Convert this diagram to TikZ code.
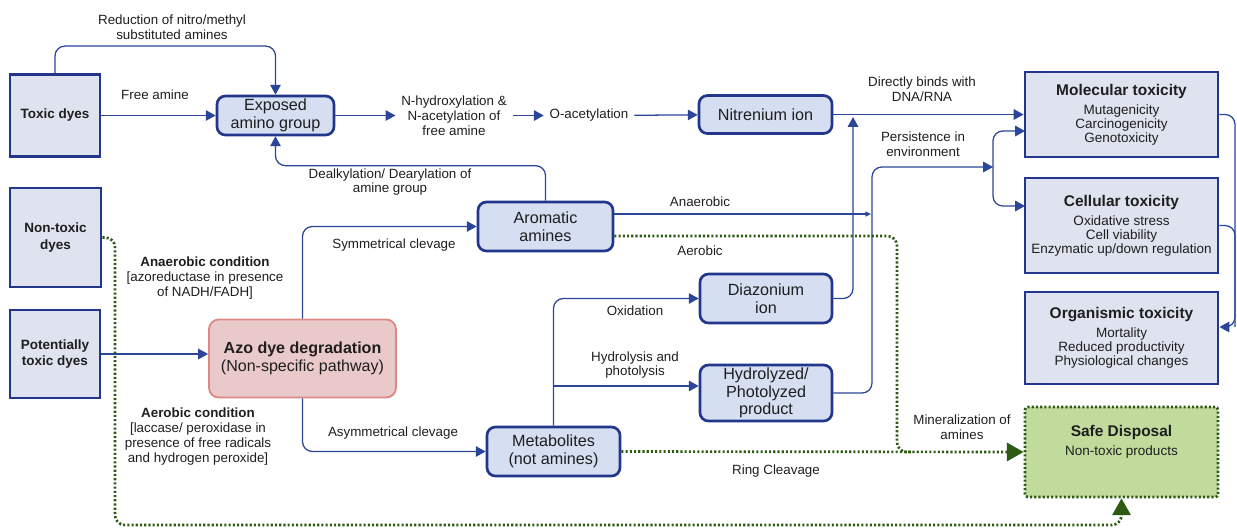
\documentclass[tikz,border=0pt]{standalone}
\usepackage{fontspec}
\setmainfont{Liberation Sans}
\usetikzlibrary{arrows.meta}
\definecolor{azline}{HTML}{2A4599}
\definecolor{azborder}{HTML}{22378C}
\definecolor{azdye}{HTML}{DEE3EF}
\definecolor{azstep}{HTML}{D5DFF1}
\definecolor{azpink}{HTML}{EAC9CA}
\definecolor{azpinkline}{HTML}{D98A84}
\definecolor{azgreen}{HTML}{2E5A14}
\definecolor{azsafe}{HTML}{C1DB9D}
\definecolor{aztext}{HTML}{1E1E1E}

\begin{document}
\begin{tikzpicture}[x=0.025cm, y=-0.025cm,
    every node/.style={text=aztext, font=\fontsize{9.5}{10.5}\selectfont},
    dyebox/.style={rectangle, draw=azborder, line width=2pt, fill=azdye, inner sep=0pt, align=center, font=\fontsize{9.6}{11.5}\selectfont\bfseries},
    stepbox/.style={rectangle, rounded corners=6pt, draw=azborder, line width=1.9pt, fill=azstep, inner sep=0pt, align=center, font=\fontsize{11.5}{12.6}\selectfont},
    toxbox/.style={rectangle, draw=azborder, line width=2pt, fill=azdye, inner sep=0pt, align=center, minimum width=4.825cm, font=\fontsize{9.6}{10}\selectfont},
    safebox/.style={rectangle, rounded corners=2pt, draw=azgreen, line width=1.9pt, dash pattern=on 1.5pt off 1.5pt, fill=azsafe, minimum width=4.825cm},
    lbl/.style={align=center, inner sep=2pt},
    flow/.style={draw=azline, line width=0.9pt, rounded corners=7pt, -{Triangle[length=7pt,width=7.5pt]}},
    tinyflow/.style={draw=azline, line width=0.9pt, -{Triangle[length=4pt,width=3.5pt]}},
    link/.style={draw=azline, line width=0.9pt, rounded corners=7pt},
    aerob/.style={draw=azgreen, line width=1.9pt, dash pattern=on 1.5pt off 1.5pt, rounded corners=7pt},
    aerobflow/.style={aerob, -{Triangle[length=12pt,width=13pt]}},
  ]
  \useasboundingbox (0,0) rectangle (1237,529);

  % Dye classes
  \node[dyebox, minimum width=2.25cm, minimum height=2.05cm] (toxic) at (55,115.5) {Toxic dyes};
  \node[dyebox, minimum width=2.275cm, minimum height=2.475cm] (nontox) at (55.5,237.5) {Non-toxic\\dyes};
  \node[dyebox, minimum width=2.25cm, minimum height=2.2cm] (pottox) at (55,354) {Potentially\\toxic dyes};

  % Degradation
  \node[rectangle, rounded corners=7pt, draw=azpinkline, line width=1.3pt, fill=azpink, minimum width=4.675cm, minimum height=1.95cm, align=center, font=\fontsize{11.4}{12.8}\selectfont] (azo) at (302.5,358.5) {{\bfseries Azo dye degradation}\\(Non-specific pathway)};

  % Intermediates
  \node[stepbox, minimum width=2.925cm, minimum height=0.975cm] (exposed) at (275.5,115.5) {Exposed\\amino group};
  \node[stepbox, minimum width=3.325cm, minimum height=0.95cm] (nitren) at (765.5,114.5) {Nitrenium ion};
  \node[stepbox, minimum width=3.375cm, minimum height=1.225cm] (arom) at (545.5,226.5) {Aromatic\\amines};
  \node[stepbox, minimum width=3.325cm, minimum height=1.225cm] (metab) at (553.5,451.5) {Metabolites\\(not amines)};
  \node[stepbox, minimum width=3.3cm, minimum height=1.225cm] (diaz) at (766,298.5) {Diazonium\\ion};
  \node[stepbox, minimum width=3.3cm, minimum height=1.4cm] (hydro) at (766,393) {Hydrolyzed/\\Photolyzed\\product};

  % Outcomes
  \node[toxbox, minimum height=2.125cm] (mol) at (1121.5,114.5) {{\bfseries\fontsize{11}{13}\selectfont Molecular toxicity}\\[3.5pt]Mutagenicity\\Carcinogenicity\\Genotoxicity};
  \node[toxbox, minimum height=2.375cm] (cell) at (1121.5,225.5) {{\bfseries\fontsize{11}{13}\selectfont Cellular toxicity}\\[3.5pt]Oxidative stress\\Cell viability\\Enzymatic up/down regulation};
  \node[toxbox, minimum height=2.3cm] (org) at (1121.5,338) {{\bfseries\fontsize{11}{13}\selectfont Organismic toxicity}\\[3.5pt]Mortality\\Reduced productivity\\Physiological changes};
  \node[safebox, minimum height=2.25cm] (safe) at (1121.5,452) {};
  \node[align=center, font=\fontsize{9.6}{10}\selectfont] (safetxt) at (1121.5,442) {{\bfseries\fontsize{11}{13}\selectfont Safe Disposal}\\[3.5pt]Non-toxic products};

  % Labels
  \node[lbl] (reduct) at (172,27) {Reduction of nitro/methyl\\substituted amines};
  \node[lbl] (freeam) at (155,95) {Free amine};
  \node[lbl] (dealk) at (390,182) {Dealkylation/ Dearylation of\\amine group};
  \node[lbl, inner xsep=4pt] (nhydro) at (454,115.5) {N-hydroxylation \&\\N-acetylation of\\free amine};
  \node[lbl, inner xsep=4pt] (oacet) at (589,115.5) {O-acetylation};
  \node[lbl] (dnarna) at (922,89) {Directly binds with\\DNA/RNA};
  \node[lbl] (persist) at (923,144) {Persistence in\\environment};
  \node[lbl] (anaer) at (700,202) {Anaerobic};
  \node[lbl] (aer) at (700,251) {Aerobic};
  \node[lbl] (sym) at (394,245) {Symmetrical clevage};
  \node[lbl] (asym) at (393,433) {Asymmetrical clevage};
  \node[lbl] (anacond) at (205,278) {{\bfseries Anaerobic condition}\\{[}azoreductase in presence\\of NADH/FADH{]}};
  \node[lbl] (aercond) at (198,436.5) {{\bfseries Aerobic condition}\\{[}laccase/ peroxidase in\\presence of free radicals\\and hydrogen peroxide{]}};
  \node[lbl] (oxid) at (635,311) {Oxidation};
  \node[lbl] (hydlys) at (635,365) {Hydrolysis and\\photolysis};
  \node[lbl] (ring) at (776,471) {Ring Cleavage};
  \node[lbl] (mineral) at (962,427) {Mineralization of\\amines};

  % Toxic dye route
  \draw[flow] (toxic) -- (exposed);
  \draw[flow] (toxic.north) -- ++(0,-27) -| (exposed.north);
  \draw[flow] (arom.north) -- ++(0,-35) -| (exposed.south);
  \draw[flow] (exposed) -- (nhydro);
  \draw[flow] (nhydro) -- (oacet);
  \draw[flow] (oacet) -- (nitren);
  \draw[flow] (nitren) -- (mol);

  % Cleavage routes
  \draw[flow] (pottox) -- (pottox -| azo.west);
  \draw[flow] (azo.north) |- (arom.west);
  \draw[flow] (azo.south) |- (metab.west);
  \draw[flow] (metab.north) |- (diaz.west);
  \coordinate (hydbr) at (553.5,386);
  \draw[flow] (hydbr) -- (hydbr -| hydro.west);

  % Towards toxicity
  \coordinate (bindpt) at (853,117);
  \draw[flow] (diaz.east) -| (bindpt);
  \coordinate (persistpt) at (872,167);
  \coordinate (split) at (993,167);
  \draw[flow] (hydro.east) -| (persistpt) -- (split);
  \coordinate (molin) at (1025,131);
  \coordinate (cellin) at (1025,206);
  \draw[flow] (split) |- (molin);
  \draw[flow] (split) |- (cellin);
  \coordinate (anaend) at (871,214);
  \draw[tinyflow] (anaend -| arom.east) -- (anaend);
  \coordinate (rail) at (1235,327);
  \draw[flow] (mol.east) -| (rail) -- (rail -| org.east);
  \draw[link] (cell.east) -| (rail);

  % Safe disposal routes
  \coordinate (aerturn) at (897,236);
  \coordinate (minjoin) at (897,452);
  \draw[aerob] (aerturn -| arom.east) -- (aerturn) -- (minjoin) -- ++(14,0);
  \draw[aerobflow] (metab.east) -- (safe.west);
  \coordinate (loopdn) at (115,525);
  \draw[aerobflow] (nontox.east) -| (loopdn) -| (safe.south);
\end{tikzpicture}
\end{document}
